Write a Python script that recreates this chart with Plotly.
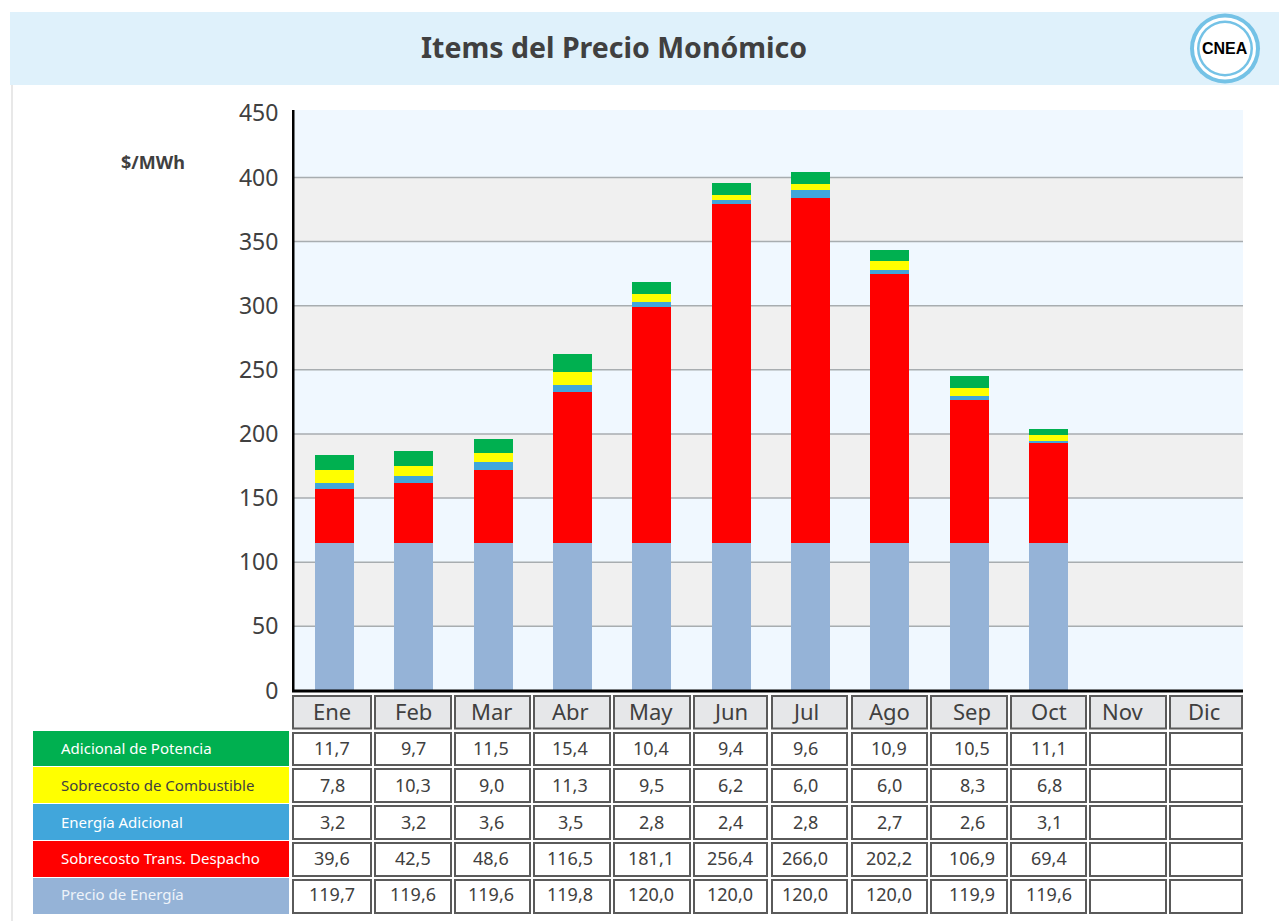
import plotly.graph_objects as go

W, H = 1279, 921
FONT = "Noto Sans"
INK = "#404040"

meses = ["Ene", "Feb", "Mar", "Abr", "May", "Jun", "Jul", "Ago", "Sep", "Oct", "Nov", "Dic"]

# Bar heights ($/MWh)
barra_energia = [115, 115, 115, 115, 115, 115, 115, 115, 115, 115, None, None]
barra_despacho = [42.1, 46.8, 56.9, 117.7, 184.0, 264.3, 269.0, 209.8, 111.5, 78.0, None, None]
barra_adicional = [4.7, 5.5, 6.2, 5.5, 3.9, 3.1, 6.2, 3.1, 3.1, 1.6, None, None]
barra_combustible = [10.1, 7.8, 7.0, 10.5, 6.2, 3.9, 4.7, 7.0, 6.2, 4.7, None, None]
barra_potencia = [11.7, 11.7, 10.9, 13.6, 9.4, 9.4, 9.4, 8.6, 9.4, 4.7, None, None]

# Values printed in the table under the plot
tabla_potencia = [11.7, 9.7, 11.5, 15.4, 10.4, 9.4, 9.6, 10.9, 10.5, 11.1, None, None]
tabla_combustible = [7.8, 10.3, 9.0, 11.3, 9.5, 6.2, 6.0, 6.0, 8.3, 6.8, None, None]
tabla_adicional = [3.2, 3.2, 3.6, 3.5, 2.8, 2.4, 2.8, 2.7, 2.6, 3.1, None, None]
tabla_despacho = [39.6, 42.5, 48.6, 116.5, 181.1, 256.4, 266.0, 202.2, 106.9, 69.4, None, None]
tabla_energia = [119.7, 119.6, 119.6, 119.8, 120.0, 120.0, 120.0, 120.0, 119.9, 119.6, None, None]

etiquetas = ["Adicional de Potencia", "Sobrecosto de Combustible", "Energía Adicional",
             "Sobrecosto Trans. Despacho", "Precio de Energía"]
colores = ["#00b050", "#ffff00", "#41a6db", "#ff0000", "#95b3d7"]
color_texto = ["#ffffff", "#404040", "#ffffff", "#ffffff", "#eef3fa"]

# Layout geometry (page pixels)
col_edges = [(292, 372), (374, 452), (454, 531), (533, 611), (613, 691), (693, 768),
             (771, 848), (851, 928), (930, 1008), (1010, 1087), (1089, 1167), (1169, 1243)]
col_text = [332, 413, 491, 570, 651, 730, 805, 889, 972, 1049, 1123, 1204]
row_edges = [(732, 766), (768, 803), (805, 840), (842, 877), (879, 914)]
row_text = [748, 785, 822, 858, 894]


def px(x):
    return x / W


def py(y):
    return 1 - y / H


shapes, ann = [], []


def rect(x0, y0, x1, y1, fill, line=None, lw=0, layer="above"):
    shapes.append(dict(type="rect", xref="paper", yref="paper", x0=px(x0), x1=px(x1),
                       y0=py(y0), y1=py(y1), fillcolor=fill, layer=layer,
                       line=dict(color=line or fill, width=lw)))


def label(x, y, t, size, color=INK, anchor="center", bold=False, family=FONT):
    ann.append(dict(xref="paper", yref="paper", x=px(x), y=py(y), text=f"<b>{t}</b>" if bold else t,
                    showarrow=False, xanchor=anchor, yanchor="middle",
                    font=dict(family=family, size=size, color=color)))


def circle(r, fill):
    cx, cy = 1225, 48.5
    shapes.append(dict(type="circle", xref="paper", yref="paper", x0=px(cx - r), x1=px(cx + r),
                       y0=py(cy + r), y1=py(cy - r), fillcolor=fill, line=dict(width=0)))


# Header strip, left rule, logo
rect(10, 12, W, 85, "#dff1fb")
rect(11, 85, 13, H, "#e8e8e8")
circle(35, "#74c2e6")
circle(31, "#ffffff")
circle(28, "#74c2e6")
circle(25.5, "#ffffff")
label(1225, 48, "CNEA", 16, "#000000", bold=True, family="Liberation Sans")
label(614, 47, "Items del Precio Monómico", 28.5, INK, bold=True)
label(153, 162, "$/MWh", 18, INK, bold=True)

# Alternating plot bands and grid lines
for lo in (50, 150, 250, 350):
    shapes.append(dict(type="rect", xref="paper", yref="y", x0=px(292), x1=px(1243), y0=lo, y1=lo + 50,
                       fillcolor="#f0f0f0", line=dict(width=0), layer="below"))
for v in range(50, 401, 50):
    shapes.append(dict(type="line", xref="paper", yref="y", x0=px(292), x1=px(1243), y0=v, y1=v,
                       line=dict(color="#a8adb0", width=1.5), layer="below"))

# Axis lines
rect(292, 110, 294.5, 691, "#000000")
rect(292, 689.5, 1243, 692.5, "#000000")

# Month header row
for (x0, x1), xt, m in zip(col_edges, col_text, meses):
    rect(x0 + 1, 696, x1 - 1, 728.5, "#e6e7e9", "#5a5a5a", 2)
    label(xt, 711, m, 22)

# Legend column and body cells
filas = [tabla_potencia, tabla_combustible, tabla_adicional, tabla_despacho, tabla_energia]
for i, fila in enumerate(filas):
    y0, y1 = row_edges[i]
    rect(33, y0 - 1, 289, y1, colores[i])
    label(59, row_text[i], etiquetas[i], 15, color_texto[i], anchor="left")
    for (x0, x1), xt, v in zip(col_edges, col_text, fila):
        rect(x0 + 1, y0 + 1, x1 - 1, y1 - 1, "#ffffff", "#5a5a5a", 2)
        if v is not None:
            label(xt, row_text[i], f"{v:.1f}".replace(".", ","), 18)

fig = go.Figure()
series = [(barra_energia, 4), (barra_despacho, 3), (barra_adicional, 2),
          (barra_combustible, 1), (barra_potencia, 0)]
for vals, i in series:
    fig.add_trace(go.Bar(x=meses, y=vals, name=etiquetas[i], marker=dict(color=colores[i], line=dict(width=0))))

fig.update_layout(
    width=W, height=H, barmode="stack", bargap=0.508, showlegend=False,
    margin=dict(l=0, r=0, t=0, b=0, pad=0), paper_bgcolor="#ffffff", plot_bgcolor="#f0f8ff",
    shapes=shapes, annotations=ann,
    font=dict(family=FONT, color=INK),
    xaxis=dict(domain=[px(292), px(1243)], type="category", range=[-0.536, 11.452], automargin=False,
               showticklabels=False, showgrid=False, zeroline=False, showline=False, ticks=""),
    yaxis=dict(domain=[py(690.5), py(110)], range=[0, 452.6], tickmode="array", automargin=False,
               tickvals=list(range(0, 451, 50)), showgrid=False, zeroline=False, showline=False,
               ticks="outside", ticklen=8, tickcolor="rgba(0,0,0,0)",
               tickfont=dict(family=FONT, size=23, color=INK)),
)

fig.write_html("out.html", config={"displayModeBar": False},
               post_script="document.body.style.margin='0';document.body.style.overflow='hidden';")
